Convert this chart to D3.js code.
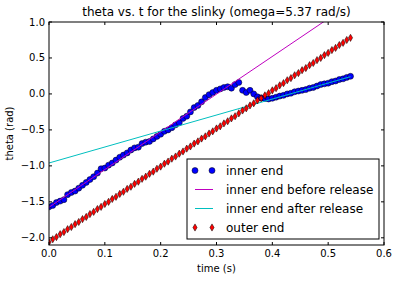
<!DOCTYPE html>
<html>
<head>
<meta charset="utf-8">
<script src="https://cdn.jsdelivr.net/npm/d3@7"></script>
<style>
  body { margin: 0; background: #fff; }
  svg { display: block; font-family: "DejaVu Sans", sans-serif; }
</style>
</head>
<body>
<div id="chart"></div>
<script>
// frame times (s)
var times = [0.0000, 0.0067, 0.0133, 0.0200, 0.0267, 0.0333, 0.0400, 0.0467, 0.0533, 0.0600,
  0.0667, 0.0733, 0.0800, 0.0867, 0.0933, 0.1000, 0.1067, 0.1133, 0.1200, 0.1267,
  0.1333, 0.1400, 0.1467, 0.1533, 0.1600, 0.1667, 0.1733, 0.1800, 0.1867, 0.1933,
  0.2000, 0.2067, 0.2133, 0.2200, 0.2267, 0.2333, 0.2400, 0.2467, 0.2533, 0.2600,
  0.2667, 0.2733, 0.2800, 0.2867, 0.2933, 0.3000, 0.3067, 0.3133, 0.3200, 0.3267,
  0.3333, 0.3400, 0.3467, 0.3533, 0.3600, 0.3667, 0.3733, 0.3800, 0.3867, 0.3933,
  0.4000, 0.4067, 0.4133, 0.4200, 0.4267, 0.4333, 0.4400, 0.4467, 0.4533, 0.4600,
  0.4667, 0.4733, 0.4800, 0.4867, 0.4933, 0.5000, 0.5067, 0.5133, 0.5200, 0.5267,
  0.5333, 0.5400];

var innerEnd = [-1.57, -1.55, -1.51, -1.49, -1.47, -1.40, -1.37, -1.35, -1.31, -1.27,
  -1.23, -1.19, -1.15, -1.10, -1.04, -1.03, -0.99, -0.96, -0.92, -0.88,
  -0.85, -0.82, -0.78, -0.75, -0.74, -0.69, -0.67, -0.66, -0.625, -0.59,
  -0.56, -0.52, -0.50, -0.47, -0.43, -0.40, -0.34, -0.31, -0.25, -0.19,
  -0.16, -0.11, -0.05, -0.01, 0.02, 0.05, 0.07, 0.09, 0.10, 0.08,
  0.13, 0.16, 0.05, 0.02, 0.05, 0.00, -0.04, -0.055, -0.065, -0.07,
  -0.06, -0.045, -0.03, -0.02, 0.00, 0.01, 0.03, 0.04, 0.05, 0.06,
  0.08, 0.09, 0.11, 0.13, 0.14, 0.15, 0.17, 0.18, 0.20, 0.21,
  0.23, 0.245];

var outerEnd = [-2.06, -2.02, -1.99, -1.95, -1.92, -1.88, -1.85, -1.81, -1.78, -1.74,
  -1.71, -1.67, -1.64, -1.60, -1.57, -1.53, -1.50, -1.46, -1.43, -1.39,
  -1.36, -1.32, -1.29, -1.25, -1.22, -1.18, -1.15, -1.11, -1.08, -1.04,
  -1.01, -0.97, -0.94, -0.90, -0.87, -0.83, -0.80, -0.76, -0.73, -0.69,
  -0.66, -0.62, -0.59, -0.55, -0.52, -0.48, -0.45, -0.41, -0.38, -0.34,
  -0.31, -0.27, -0.23, -0.20, -0.16, -0.13, -0.09, -0.06, -0.02, 0.01,
  0.05, 0.08, 0.12, 0.15, 0.19, 0.22, 0.26, 0.29, 0.33, 0.36,
  0.40, 0.43, 0.47, 0.50, 0.54, 0.57, 0.61, 0.64, 0.68, 0.71,
  0.75, 0.78];

// straight fits, end points
var fitTimes = [0, 0.54];
var beforeRelease = [-1.575, 1.255];
var afterRelease = [-0.96, 0.24];

var xTicks = [0.0, 0.1, 0.2, 0.3, 0.4, 0.5, 0.6];
var yTicks = [-2.0, -1.5, -1.0, -0.5, 0.0, 0.5, 1.0];
var legendLabels = ["inner end", "inner end before release", "inner end after release", "outer end"];

var W = 398, H = 281;
var margin = { top: 22, right: 14, bottom: 36, left: 49 },
  width = W - margin.left - margin.right,
  height = H - margin.top - margin.bottom;

var svg = d3.select("#chart").append("svg")
  .attr("width", W)
  .attr("height", H);

var x = d3.scaleLinear().domain([0, 0.6]).range([0, width]);
var y = d3.scaleLinear().domain([-2.1, 1.0]).range([height, 0]);

var g = svg.append("g")
  .attr("transform", "translate(" + margin.left + "," + margin.top + ")");

g.append("clipPath").attr("id", "clip")
  .append("rect").attr("width", width).attr("height", height);

var plot = g.append("g").attr("clip-path", "url(#clip)");

var fmt = function (d) { return d3.format(".1f")(d).replace("-", "\u2212"); };

// inner end dots
plot.selectAll("circle.inner")
  .data(times)
  .enter().append("circle")
  .attr("class", "inner")
  .attr("cx", function (d) { return x(d); })
  .attr("cy", function (d, i) { return y(innerEnd[i]); })
  .attr("r", 3)
  .attr("fill", "#0000ff")
  .attr("stroke", "#000")
  .attr("stroke-width", 0.5);

var line = d3.line()
  .x(function (d) { return x(d[0]); })
  .y(function (d) { return y(d[1]); });

plot.append("path")
  .attr("d", line(fitTimes.map(function (t, i) { return [t, beforeRelease[i]]; })))
  .attr("fill", "none")
  .attr("stroke", "#bf00bf")
  .attr("stroke-width", 1);

plot.append("path")
  .attr("d", line(fitTimes.map(function (t, i) { return [t, afterRelease[i]]; })))
  .attr("fill", "none")
  .attr("stroke", "#00bfbf")
  .attr("stroke-width", 1);

// thin diamond marker
var diamond = "M0,-3.6L2.1,0L0,3.6L-2.1,0Z";

plot.selectAll("path.outer")
  .data(times)
  .enter().append("path")
  .attr("class", "outer")
  .attr("d", diamond)
  .attr("transform", function (d, i) { return "translate(" + x(d) + "," + y(outerEnd[i]) + ")"; })
  .attr("fill", "#ff0000")
  .attr("stroke", "#000")
  .attr("stroke-width", 0.5);

// frame
g.append("rect")
  .attr("width", width).attr("height", height)
  .attr("fill", "none").attr("stroke", "#000").attr("stroke-width", 1);

// ticks inside, on all sides
var tl = 3;
xTicks.forEach(function (t) {
  g.append("line").attr("x1", x(t)).attr("x2", x(t)).attr("y1", height).attr("y2", height - tl).attr("stroke", "#000");
  g.append("line").attr("x1", x(t)).attr("x2", x(t)).attr("y1", 0).attr("y2", tl).attr("stroke", "#000");
  g.append("text")
    .attr("x", x(t)).attr("y", height + 12)
    .attr("text-anchor", "middle")
    .style("font-size", "10px")
    .text(fmt(t));
});
yTicks.forEach(function (t) {
  g.append("line").attr("x1", 0).attr("x2", tl).attr("y1", y(t)).attr("y2", y(t)).attr("stroke", "#000");
  g.append("line").attr("x1", width).attr("x2", width - tl).attr("y1", y(t)).attr("y2", y(t)).attr("stroke", "#000");
  g.append("text")
    .attr("x", -4).attr("y", y(t))
    .attr("dy", "0.35em")
    .attr("text-anchor", "end")
    .style("font-size", "10px")
    .text(fmt(t));
});

// labels and title
svg.append("text")
  .attr("x", margin.left + width / 2).attr("y", 16)
  .attr("text-anchor", "middle")
  .style("font-size", "12px")
  .text("theta vs. t for the slinky (omega=5.37 rad/s)");

svg.append("text")
  .attr("x", margin.left + width / 2).attr("y", 272)
  .attr("text-anchor", "middle")
  .style("font-size", "10px")
  .text("time (s)");

svg.append("text")
  .attr("transform", "translate(13," + (margin.top + height / 2) + ") rotate(-90)")
  .attr("text-anchor", "middle")
  .style("font-size", "10px")
  .text("theta (rad)");

// legend
var lg = svg.append("g").attr("transform", "translate(187,159)");
lg.append("rect")
  .attr("width", 192).attr("height", 80)
  .attr("fill", "#fff").attr("stroke", "#000").attr("stroke-width", 1);

legendLabels.forEach(function (name, i) {
  var cy = 11.5 + i * 19;
  if (i === 0) {
    [8, 25].forEach(function (cx) {
      lg.append("circle").attr("cx", cx).attr("cy", cy).attr("r", 3)
        .attr("fill", "#0000ff").attr("stroke", "#000").attr("stroke-width", 0.5);
    });
  } else if (i === 3) {
    [8, 25].forEach(function (cx) {
      lg.append("path").attr("d", diamond).attr("transform", "translate(" + cx + "," + cy + ")")
        .attr("fill", "#ff0000").attr("stroke", "#000").attr("stroke-width", 0.5);
    });
  } else {
    lg.append("line").attr("x1", 8).attr("x2", 26).attr("y1", cy).attr("y2", cy)
      .attr("stroke", i === 1 ? "#bf00bf" : "#00bfbf").attr("stroke-width", 1);
  }
  lg.append("text")
    .attr("x", 39).attr("y", cy)
    .attr("dy", "0.35em")
    .style("font-size", "12px")
    .text(name);
});
</script>
</body>
</html>
